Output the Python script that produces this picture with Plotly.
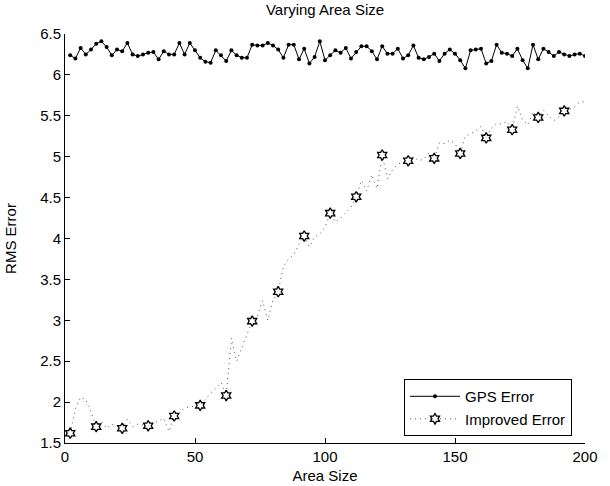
import plotly.graph_objects as go

# ---- data ----
gps_x = list(range(2, 201, 2))
gps_err = [6.24, 6.20, 6.33, 6.25, 6.31, 6.38, 6.41, 6.34, 6.24, 6.31, 6.29, 6.39, 6.25, 6.23, 6.25, 6.27, 6.28, 6.19, 6.29, 6.25, 6.25, 6.39, 6.25, 6.39,
           6.30, 6.21, 6.16, 6.15, 6.30, 6.24, 6.17, 6.30, 6.24, 6.21, 6.21, 6.37, 6.36, 6.36, 6.39, 6.36, 6.31, 6.21, 6.37, 6.37, 6.19, 6.32, 6.14, 6.22, 6.41, 6.18,
           6.24, 6.30, 6.27, 6.33, 6.20, 6.28, 6.35, 6.35, 6.29, 6.19, 6.35, 6.26, 6.26, 6.32, 6.20, 6.24, 6.36, 6.21, 6.19, 6.22, 6.26, 6.17, 6.26, 6.31, 6.26,
           6.18, 6.08, 6.30, 6.31, 6.32, 6.14, 6.17, 6.37, 6.27, 6.26, 6.23, 6.32, 6.18, 6.08, 6.37, 6.19, 6.32, 6.28, 6.23, 6.28, 6.25, 6.23, 6.25, 6.26, 6.23]

imp_x = list(range(2, 201, 2))
imp_err = [1.62, 1.92, 2.06, 2.03, 1.88, 1.70, 1.76, 1.68, 1.73, 1.71,
           1.68, 1.79, 1.70, 1.73, 1.72, 1.71, 1.74, 1.77, 1.80, 1.64,
           1.83, 1.86, 1.93, 1.94, 1.95, 1.96, 2.03, 2.11, 2.17, 2.24,
           2.08, 2.78, 2.50, 2.67, 2.82, 2.99, 3.05, 3.24, 3.00, 3.25,
           3.35, 3.66, 3.75, 3.80, 3.93, 4.03, 3.90, 4.02, 4.05, 4.14,
           4.31, 4.20, 4.25, 4.32, 4.38, 4.51, 4.71, 4.58, 4.78, 4.61,
           5.02, 4.73, 4.84, 4.91, 4.93, 4.95, 5.00, 4.95, 4.97, 5.05,
           4.98, 5.17, 5.16, 5.20, 5.16, 5.04, 5.25, 5.28, 5.32, 5.37,
           5.23, 5.35, 5.41, 5.40, 5.43, 5.33, 5.62, 5.45, 5.39, 5.55,
           5.48, 5.57, 5.50, 5.44, 5.49, 5.56, 5.58, 5.61, 5.67, 5.67]
marker_x = [2, 12, 22, 32, 42, 52, 62, 72, 82, 92, 102, 112, 122, 132, 142, 152, 162, 172, 182, 192]
marker_y = [imp_err[imp_x.index(v)] for v in marker_x]

title_text = "Varying Area Size"
x_title = "Area Size"
y_title = "RMS Error"
x_ticks = [0, 50, 100, 150, 200]
y_ticks = [1.5, 2, 2.5, 3, 3.5, 4, 4.5, 5, 5.5, 6, 6.5]

FONT = "Liberation Sans, Arial, Helvetica, sans-serif"
DOT_LINE = dict(color="#555555", width=1, dash="1px,4px")
HEX = dict(symbol="hexagram", size=8, color="white", line=dict(color="black", width=1.3))

fig = go.Figure()
fig.add_trace(go.Scatter(x=gps_x, y=gps_err, mode="lines+markers", name="GPS Error",
                         line=dict(color="black", width=1),
                         marker=dict(color="black", size=4, symbol="circle")))
fig.add_trace(go.Scatter(x=imp_x, y=imp_err, mode="lines", showlegend=False, line=DOT_LINE))
fig.add_trace(go.Scatter(x=marker_x, y=marker_y, mode="markers", showlegend=False, marker=HEX))
fig.add_trace(go.Scatter(x=[None], y=[None], mode="lines+markers", name="Improved Error",
                         line=DOT_LINE, marker=HEX))

axis_common = dict(showgrid=False, zeroline=False, showline=True, linecolor="black", linewidth=1,
                   ticks="inside", ticklen=5, tickcolor="black", mirror=False, automargin=False,
                   tickfont=dict(family=FONT, size=15, color="black"))
fig.update_xaxes(range=[0, 200], tickvals=x_ticks,
                 title=dict(text=x_title, font=dict(family=FONT, size=15, color="black"), standoff=6), **axis_common)
fig.update_yaxes(range=[1.5, 6.5], tickvals=y_ticks,
                 title=dict(text=y_title, font=dict(family=FONT, size=15, color="black"), standoff=19), **axis_common)

fig.update_layout(
    width=610, height=486,
    margin=dict(l=65, r=25, t=34, b=43, autoexpand=False),
    paper_bgcolor="white", plot_bgcolor="white",
    title=dict(text=title_text, x=(65 + 585) / 2 / 610, xanchor="center", y=1 - 10 / 486, yanchor="middle",
               font=dict(family=FONT, size=15, color="black")),
    legend=dict(x=0.975, y=0.017, xanchor="right", yanchor="bottom",
                bgcolor="white", bordercolor="black", borderwidth=1,
                font=dict(family=FONT, size=15, color="black"),
                tracegroupgap=0, itemwidth=50),
    font=dict(family=FONT, color="black"),
)

fig.write_html("out.html", config={"displayModeBar": False},
               post_script="document.body.style.margin='0';")
